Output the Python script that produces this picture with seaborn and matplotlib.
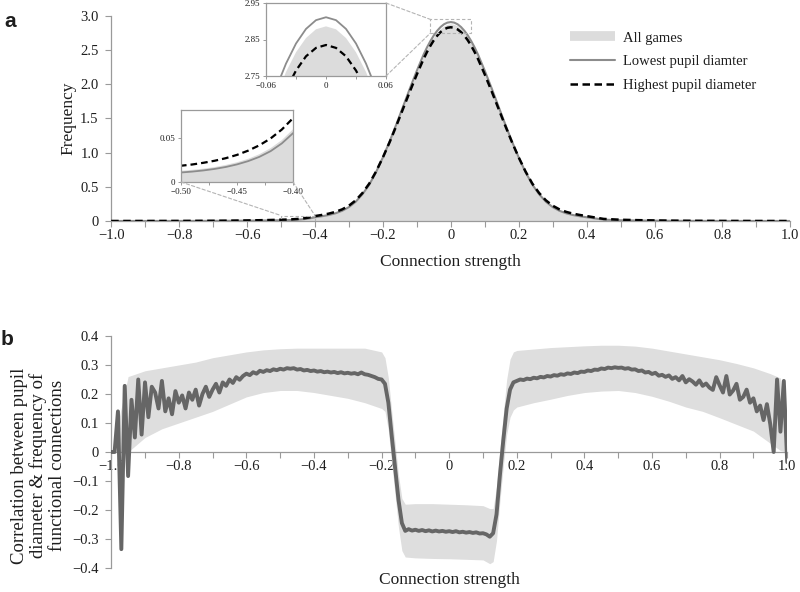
import numpy as np
import matplotlib
matplotlib.use("Agg")
import matplotlib.pyplot as plt
import seaborn as sns
from matplotlib.patches import ConnectionPatch, Rectangle
from matplotlib.lines import Line2D
from matplotlib.ticker import MultipleLocator

# ---------------- panel a : distribution of connection strength ----------------
freq_x = [-1.00, -0.90, -0.80, -0.70, -0.65, -0.60, -0.55,
          -0.50, -0.49, -0.48, -0.47, -0.46, -0.45, -0.44, -0.43, -0.42, -0.41,
          -0.40, -0.38, -0.36, -0.34, -0.32, -0.30, -0.28, -0.26, -0.24, -0.22,
          -0.20, -0.18, -0.16, -0.14, -0.12, -0.10,
          -0.08, -0.07, -0.06, -0.05, -0.04, -0.03, -0.02, -0.01, 0.00,
          0.01, 0.02, 0.03, 0.04, 0.05, 0.06, 0.07, 0.08,
          0.10, 0.12, 0.14, 0.16, 0.18, 0.20, 0.22, 0.24, 0.26, 0.28,
          0.30, 0.32, 0.34, 0.36, 0.38, 0.40,
          0.45, 0.50, 0.55, 0.60, 0.65, 0.70, 0.80, 0.90, 1.00]

all_games = [0.0000, 0.0003, 0.0008, 0.0022, 0.0036, 0.0058, 0.0087,
             0.0126, 0.0137, 0.0150, 0.0168, 0.0192, 0.0222, 0.0261, 0.0313, 0.0381, 0.0471,
             0.0593, 0.074, 0.092, 0.118, 0.155, 0.21, 0.29, 0.40, 0.54, 0.72,
             0.93, 1.16, 1.41, 1.67, 1.93, 2.18,
             2.416, 2.519, 2.611, 2.692, 2.761, 2.815, 2.854, 2.878, 2.886,
             2.878, 2.854, 2.815, 2.761, 2.692, 2.611, 2.519, 2.416,
             2.18, 1.93, 1.67, 1.41, 1.16, 0.93, 0.72, 0.54, 0.40, 0.29,
             0.21, 0.155, 0.118, 0.092, 0.074, 0.0593,
             0.0222, 0.0126, 0.0087, 0.0058, 0.0036, 0.0022, 0.0008, 0.0003, 0.0000]

lowest_pupil = [0.0000, 0.0002, 0.0006, 0.0018, 0.0030, 0.0048, 0.0073,
                0.0107, 0.0117, 0.0130, 0.0147, 0.0169, 0.0198, 0.0235, 0.0283, 0.0347, 0.0434,
                0.0549, 0.069, 0.087, 0.112, 0.149, 0.203, 0.282, 0.392, 0.533, 0.716,
                0.930, 1.165, 1.419, 1.682, 1.946, 2.199,
                2.437, 2.541, 2.634, 2.716, 2.784, 2.839, 2.879, 2.903, 2.911,
                2.903, 2.879, 2.839, 2.784, 2.716, 2.634, 2.541, 2.437,
                2.199, 1.946, 1.682, 1.419, 1.165, 0.930, 0.716, 0.533, 0.392, 0.282,
                0.203, 0.149, 0.112, 0.087, 0.069, 0.0549,
                0.0198, 0.0107, 0.0073, 0.0048, 0.0030, 0.0018, 0.0006, 0.0002, 0.0000]

highest_pupil = [0.0000, 0.0005, 0.0012, 0.0032, 0.0052, 0.0082, 0.0124,
                 0.0183, 0.0197, 0.0216, 0.0239, 0.0268, 0.0305, 0.0353, 0.0413, 0.0490, 0.0590,
                 0.0718, 0.088, 0.107, 0.133, 0.170, 0.224, 0.302, 0.410, 0.548, 0.725,
                 0.930, 1.155, 1.398, 1.650, 1.902, 2.145,
                 2.373, 2.474, 2.565, 2.645, 2.712, 2.765, 2.804, 2.827, 2.835,
                 2.827, 2.804, 2.765, 2.712, 2.645, 2.565, 2.474, 2.373,
                 2.145, 1.902, 1.650, 1.398, 1.155, 0.930, 0.725, 0.548, 0.410, 0.302,
                 0.224, 0.170, 0.133, 0.107, 0.088, 0.0718,
                 0.0305, 0.0183, 0.0124, 0.0082, 0.0052, 0.0032, 0.0012, 0.0005, 0.0000]

legend_labels = ["All games", "Lowest pupil diamter", "Highest pupil diameter"]

# ---------------- panel b : correlation with pupil diameter ----------------
corr_x = np.round(np.linspace(-1.0, 1.0, 201), 2)
corr_mean = [
    0.000, 0.000, 0.140, -0.335, 0.228, -0.083, 0.180, 0.050, 0.250, 0.060,
    0.240, 0.120, 0.225, 0.205, 0.150, 0.245, 0.140, 0.185, 0.130, 0.210,
    0.170, 0.195, 0.150, 0.205, 0.180, 0.215, 0.160, 0.200, 0.225, 0.190,
    0.215, 0.235, 0.205, 0.240, 0.228, 0.250, 0.238, 0.258, 0.249, 0.262,
    0.270, 0.265, 0.275, 0.270, 0.280, 0.276, 0.282, 0.279, 0.285, 0.282,
    0.287, 0.284, 0.289, 0.287, 0.289, 0.284, 0.286, 0.281, 0.283, 0.279,
    0.281, 0.277, 0.279, 0.275, 0.277, 0.274, 0.276, 0.272, 0.275, 0.271,
    0.273, 0.270, 0.272, 0.268, 0.274, 0.268, 0.266, 0.262, 0.258, 0.252,
    0.250, 0.235, 0.170, 0.055, -0.055, -0.165, -0.245, -0.272, -0.266, -0.271,
    -0.268, -0.272, -0.269, -0.273, -0.270, -0.274, -0.271, -0.274, -0.272, -0.275,
    -0.273, -0.276, -0.273, -0.277, -0.275, -0.278, -0.276, -0.279, -0.277, -0.281,
    -0.280, -0.284, -0.292, -0.280, -0.215, -0.080, 0.040, 0.150, 0.215, 0.240,
    0.245, 0.250, 0.248, 0.253, 0.251, 0.256, 0.254, 0.259, 0.257, 0.262,
    0.260, 0.265, 0.263, 0.268, 0.266, 0.271, 0.269, 0.274, 0.272, 0.277,
    0.276, 0.281, 0.279, 0.284, 0.283, 0.288, 0.286, 0.291, 0.289, 0.292,
    0.290, 0.291, 0.287, 0.289, 0.284, 0.285, 0.279, 0.281, 0.274, 0.276,
    0.269, 0.273, 0.263, 0.266, 0.259, 0.264, 0.252, 0.258, 0.247, 0.262,
    0.240, 0.251, 0.243, 0.232, 0.247, 0.228, 0.236, 0.222, 0.214, 0.258,
    0.230, 0.205, 0.262, 0.198, 0.212, 0.235, 0.180, 0.190, 0.215, 0.170,
    0.185, 0.140, 0.160, 0.110, 0.165, 0.095, 0.000, 0.250, 0.070, 0.245,
    -0.035]

band_x = [-0.98, -0.95, -0.90, -0.85, -0.80, -0.75, -0.70, -0.65, -0.60, -0.55,
          -0.50, -0.45, -0.40, -0.35, -0.30, -0.25, -0.20, -0.19, -0.18, -0.17,
          -0.16, -0.15, -0.14, -0.13, -0.10, -0.05, 0.00, 0.05, 0.10, 0.12,
          0.13, 0.14, 0.15, 0.16, 0.17, 0.18, 0.19, 0.20, 0.25, 0.30,
          0.35, 0.40, 0.45, 0.50, 0.55, 0.60, 0.65, 0.70, 0.75, 0.80,
          0.85, 0.90, 0.95, 0.98, 1.00]
band_upper = [0.10, 0.26, 0.28, 0.29, 0.30, 0.31, 0.325, 0.335, 0.345, 0.352,
              0.356, 0.358, 0.358, 0.358, 0.358, 0.358, 0.345, 0.325, 0.255, 0.140,
              0.030, -0.080, -0.160, -0.180, -0.178, -0.178, -0.180, -0.182, -0.185, -0.195,
              -0.195, -0.120, 0.010, 0.130, 0.250, 0.320, 0.345, 0.350, 0.355, 0.360,
              0.363, 0.366, 0.368, 0.368, 0.365, 0.358, 0.348, 0.338, 0.328, 0.318,
              0.305, 0.290, 0.270, 0.255, 0.000]
band_lower = [0.00, 0.00, 0.05, 0.08, 0.10, 0.12, 0.14, 0.165, 0.19, 0.205,
              0.212, 0.212, 0.205, 0.195, 0.185, 0.170, 0.150, 0.140, 0.075, -0.040,
              -0.150, -0.260, -0.340, -0.362, -0.365, -0.367, -0.368, -0.370, -0.372, -0.385,
              -0.378, -0.305, -0.170, -0.050, 0.060, 0.120, 0.145, 0.155, 0.170, 0.182,
              0.195, 0.205, 0.210, 0.212, 0.205, 0.192, 0.175, 0.155, 0.140, 0.118,
              0.095, 0.072, 0.030, 0.005, 0.000]

FILL = "#dcdcdc"
SOLID = "#8c8c8c"
SPINE = "#9a9a9a"
CONN = "#b4b4b4"
LINE_B = "#666666"
BAND = "#dedede"
TEXT = "#1e1e1e"

sns.set_theme(style="ticks")
plt.rcParams['font.family'] = ['Liberation Serif', 'DejaVu Serif']
plt.rcParams['text.color'] = TEXT
plt.rcParams['xtick.color'] = SPINE
plt.rcParams['ytick.color'] = SPINE
plt.rcParams['xtick.labelcolor'] = TEXT
plt.rcParams['ytick.labelcolor'] = TEXT


def fmt(v, nd=1):
    if abs(v) < 1e-9:
        return "0"
    return f"{v:.{nd}f}".replace("-", "\u2212")


def style_axes(ax, box=False):
    for side in ["top", "right"]:
        ax.spines[side].set_visible(box)
    for side in ax.spines:
        ax.spines[side].set_color(SPINE)
        ax.spines[side].set_linewidth(0.9)


fig = plt.figure(figsize=(8, 5.92), dpi=100)

# ---- panel a main
ax_a = fig.add_axes([0.139, 0.6267, 0.849, 0.3463])
ax_a.fill_between(freq_x, all_games, color=FILL, linewidth=0, zorder=1)
sns.lineplot(x=freq_x, y=lowest_pupil, ax=ax_a, color=SOLID, linewidth=1.5, zorder=3)
sns.lineplot(x=freq_x, y=highest_pupil, ax=ax_a, color="black", linewidth=1.8,
             linestyle=(0, (3, 1.8)), zorder=4)
ax_a.set_xlim(-1, 1)
ax_a.set_ylim(0, 3)
style_axes(ax_a)
xt = np.round(np.arange(-1.0, 1.01, 0.2), 1)
ax_a.set_xticks(xt)
ax_a.set_xticklabels([fmt(v) for v in xt])
ax_a.xaxis.set_minor_locator(MultipleLocator(0.1))
yt = np.round(np.arange(0, 3.01, 0.5), 1)
ax_a.set_yticks(yt)
ax_a.set_yticklabels([fmt(v) for v in yt])
ax_a.tick_params(which="both", direction="out", length=4, width=0.8, labelsize=10.5)
ax_a.tick_params(axis="x", pad=2)
ax_a.tick_params(axis="y", pad=5)
ax_a.set_xlabel("")
ax_a.set_ylabel("")
fig.text(0.5625, 0.5574, "Connection strength", ha="center", va="center", fontsize=12.5)
fig.text(0.086, 0.80, "Frequency", ha="center", va="center", rotation=90, fontsize=12.5)

# zoom boxes on main axes
ax_a.add_patch(Rectangle((-0.5, 0), 0.1, 0.08, fill=False, ec=CONN, lw=0.8,
                         ls=(0, (3, 2)), zorder=5))
ax_a.add_patch(Rectangle((-0.06, 2.75), 0.12, 0.2, fill=False, ec=CONN, lw=0.8,
                         ls=(0, (3, 2)), zorder=5))

handles = [Line2D([0], [0], color=FILL, linewidth=7, solid_capstyle="butt"),
           Line2D([0], [0], color=SOLID, linewidth=1.5),
           Line2D([0], [0], color="black", linewidth=1.8, linestyle=(0, (3, 1.8)))]
fig.legend(handles, legend_labels, loc="upper left", bbox_to_anchor=(0.7125, 0.947),
           frameon=False, fontsize=10.5, handlelength=3.1, handletextpad=0.55,
           labelspacing=0.72, borderpad=0, borderaxespad=0)

# ---- inset 1 : tail
ins1 = fig.add_axes([181 / 800, 1 - 182 / 592, 112 / 800, 72 / 592])
ins1.fill_between(freq_x, all_games, color=FILL, linewidth=0)
sns.lineplot(x=freq_x, y=lowest_pupil, ax=ins1, color=SOLID, linewidth=1.3)
sns.lineplot(x=freq_x, y=highest_pupil, ax=ins1, color="black", linewidth=1.6,
             linestyle=(0, (3, 1.8)))
ins1.set_xlim(-0.5, -0.4)
ins1.set_ylim(0, 0.081)
style_axes(ins1, box=True)
ins1.set_xticks([-0.5, -0.45, -0.4])
ins1.set_xticklabels([fmt(v, 2) for v in [-0.5, -0.45, -0.4]])
ins1.xaxis.set_minor_locator(MultipleLocator(0.025))
ins1.set_yticks([0, 0.05])
ins1.set_yticklabels(["0", "0.05"])
ins1.tick_params(which="both", direction="out", length=2.5, width=0.7, labelsize=6.5, pad=1.5)
ins1.set_xlabel("")
ins1.set_ylabel("")

# ---- inset 2 : peak
ins2 = fig.add_axes([266 / 800, 1 - 76 / 592, 120 / 800, 73 / 592])
ins2.fill_between(freq_x, all_games, color=FILL, linewidth=0)
sns.lineplot(x=freq_x, y=lowest_pupil, ax=ins2, color=SOLID, linewidth=1.3)
sns.lineplot(x=freq_x, y=highest_pupil, ax=ins2, color="black", linewidth=1.6,
             linestyle=(0, (3, 1.8)))
ins2.set_xlim(-0.06, 0.06)
ins2.set_ylim(2.75, 2.95)
style_axes(ins2, box=True)
ins2.set_xticks([-0.06, 0, 0.06])
ins2.set_xticklabels([fmt(v, 2) for v in [-0.06, 0, 0.06]])
ins2.xaxis.set_minor_locator(MultipleLocator(0.03))
ins2.set_yticks([2.75, 2.85, 2.95])
ins2.set_yticklabels(["2.75", "2.85", "2.95"])
ins2.tick_params(which="both", direction="out", length=2.5, width=0.7, labelsize=6.5, pad=1.5)
ins2.set_xlabel("")
ins2.set_ylabel("")

# connector lines
for axA, ptA, ptB in [(ins1, (0, 0), (-0.5, 0.08)), (ins1, (1, 0), (-0.4, 0.08)),
                      (ins2, (1, 1), (-0.06, 2.95)), (ins2, (1, 0), (-0.06, 2.75))]:
    con = ConnectionPatch(xyA=ptA, coordsA=axA.transAxes, xyB=ptB, coordsB=ax_a.transData,
                          color=CONN, lw=0.8, ls=(0, (3, 2)))
    fig.add_artist(con)

# ---- panel b
ax_b = fig.add_axes([0.139, 0.0405, 0.845, 0.392])
ax_b.fill_between(band_x, band_lower, band_upper, color=BAND, linewidth=0, zorder=1)
sns.lineplot(x=corr_x, y=corr_mean, ax=ax_b, color=LINE_B, linewidth=2.8, zorder=3)
ax_b.set_xlim(-1, 1)
ax_b.set_ylim(-0.4, 0.4)
style_axes(ax_b)
ax_b.spines["bottom"].set_position(("data", 0))
ax_b.set_xticks(xt)
ax_b.set_xticklabels([fmt(v) for v in xt])
ax_b.xaxis.set_minor_locator(MultipleLocator(0.1))
ytb = np.round(np.arange(-0.4, 0.41, 0.1), 1)
ax_b.set_yticks(ytb)
ax_b.set_yticklabels([fmt(v) for v in ytb])
ax_b.tick_params(which="both", direction="out", length=4, width=0.8, labelsize=10.5)
ax_b.tick_params(axis="x", pad=2)
ax_b.tick_params(axis="y", pad=5)
ax_b.set_xlabel("")
ax_b.set_ylabel("")
fig.text(0.5612, 0.021, "Connection strength", ha="center", va="center", fontsize=12.5)
fig.text(0.048, 0.2137, "Correlation between pupil\ndiameter & frequency of\nfunctional connections",
         ha="center", va="center", rotation=90, multialignment="center",
         fontsize=13.5, linespacing=1.12)

fig.text(0.0125, 0.964, "a", ha="center", va="center", fontsize=15, fontweight="bold",
         family="Liberation Sans")
fig.text(0.009, 0.426, "b", ha="center", va="center", fontsize=15, fontweight="bold",
         family="Liberation Sans")

fig.savefig("out.png", dpi=100)
